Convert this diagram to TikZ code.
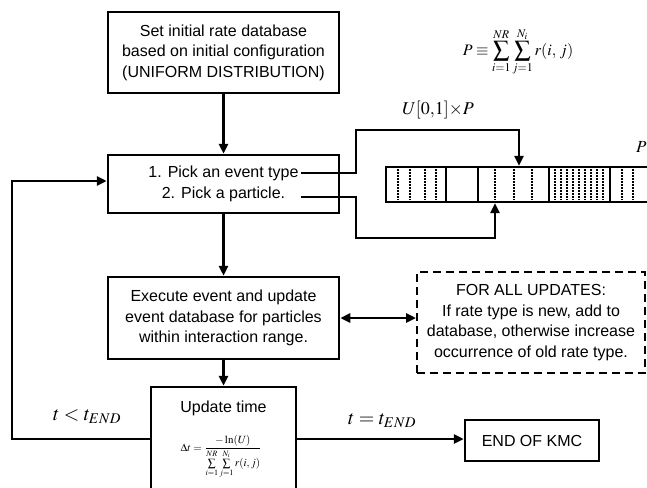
\documentclass[tikz,border=0pt]{standalone}
\usepackage{mathptmx}
\usepackage[no-math]{fontspec}
\setmainfont{Liberation Sans}
\usetikzlibrary{arrows.meta}
\begin{document}
\begin{tikzpicture}[x=1pt,y=-1pt,
  box/.style={draw, line width=2.5pt, align=center, inner sep=0pt, font=\fontsize{16}{20.5}\selectfont},
  dbox/.style={box, line width=2pt, dash pattern=on 8pt off 5pt},
  conn/.style={line width=2.5pt},
  arr/.style={conn, -{Triangle[length=10pt,width=9pt]}},
  darr/.style={conn, {Triangle[length=10pt,width=9pt]}-{Triangle[length=10pt,width=9pt]}},
  divline/.style={line width=2.2pt},
  dotline/.style={line width=1.5pt, dash pattern=on 1.7pt off 1.3pt},
  mlabel/.style={inner sep=0pt, font=\fontsize{20}{24}\selectfont},
  plain/.style={inner sep=0pt, font=\fontsize{16}{20.5}\selectfont}]
\clip (0,0) rectangle (647,487);

% boxes
\node[box, minimum width=231pt, minimum height=81pt] (b1) at (223.5,52.5)
  {Set initial rate database\\based on initial configuration\\(UNIFORM DISTRIBUTION)};
\node[box, minimum width=231pt, minimum height=58pt] (b2) at (223.5,184)
  {1. Pick an event type\\2. Pick a particle.};
\node[box, minimum width=231pt, minimum height=82pt] (b3) at (223.5,318)
  {Execute event and update\\event database for particles\\within interaction range.};
\node[dbox, minimum width=228pt, minimum height=101pt] (upds) at (531,322.5)
  {FOR ALL UPDATES:\\If rate type is new, add to\\database, otherwise increase\\occurrence of old rate type.};
\node[box, minimum width=145pt, minimum height=104pt] (upd) at (223.5,439) {};
\node[plain] (updt) at (223.5,408) {Update time};
\node[inner sep=0pt, font=\fontsize{11}{13}\selectfont] (dtf) at (221,457)
  {$\displaystyle \Delta t=\frac{-\ln(U)}{\sum\limits_{i=1}^{NR}\sum\limits_{j=1}^{N_i} r(i,j)}$};
\node[box, minimum width=134pt, minimum height=41pt] (end) at (532,440.5) {END OF KMC};

% rate bar
\node[draw, line width=2.2pt, minimum width=300pt, minimum height=35pt, inner sep=0pt] (bar) at (536,184.5) {};
\foreach \x in {446,478,549,610} \draw[divline] (\x,167) -- (\x,202);
\foreach \x in {398,410,425,436,495,514,532,622,633} \draw[dotline] (\x,169) -- (\x,200);
\foreach \x in {555,561,567,573,579,585,591,597,603} \draw[dotline] (\x,169) -- (\x,200);

% formulas and labels
\node[inner sep=0pt, font=\fontsize{16}{20}\selectfont] (pform) at (518,52)
  {$\displaystyle P\equiv\sum_{i=1}^{NR}\sum_{j=1}^{N_i} r(i,\,j)$};
\node[inner sep=0pt, font=\fontsize{18}{20}\selectfont] (ulab) at (438,110) {$U[0{,}1]{\times}P$};
\node[inner sep=0pt, font=\fontsize{17}{20}\selectfont, anchor=west] (plab) at (636,147) {$P$};
\node[mlabel] (ltl) at (87,417) {$t<t_{END}$};
\node[mlabel] (ltr) at (382,421) {$t=t_{END}$};

% connectors
\coordinate (e1) at (301,173);
\coordinate (e2) at (301,197);
\coordinate (jx) at (356,0);
\coordinate (lp) at (12,300);
\coordinate (pa) at (519,130);
\coordinate (pb) at (495,238);
\draw[arr] (e1) -- (e1 -| jx) -- (jx |- pa) -- (pa) -- (pa |- bar.north);
\draw[arr] (e2) -- (e2 -| jx) -- (jx |- pb) -- (pb) -- (pb |- bar.south);
\draw[arr] (b1.south) -- (b2.north);
\draw[arr] (b2.south) -- (b3.north);
\draw[arr] (b3.south) -- (upd.north);
\draw[darr] (b3.east) -- (b3.east -| upds.west);
\draw[arr] (upd.west) -- (upd.west -| lp) |- ([yshift=3pt]b2.west);
\draw[arr] (upd.east) -- (upd.east -| end.west);
\end{tikzpicture}
\end{document}
